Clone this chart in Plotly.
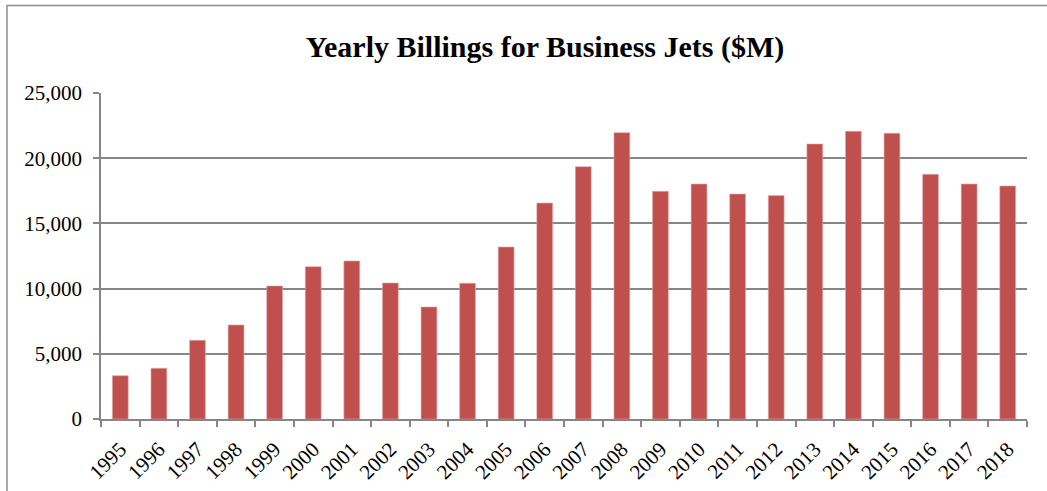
import plotly.graph_objects as go

# Yearly billings for business jets, in millions of dollars
years = [str(y) for y in range(1995, 2019)]
billings = [3320, 3890, 6030, 7210, 10200, 11680, 12120, 10430, 8590, 10410,
            13190, 16560, 19350, 21960, 17460, 18020, 17250, 17130,
            21090, 22060, 21910, 18760, 18020, 17870]
y_ticks = [0, 5000, 10000, 15000, 20000, 25000]
y_tick_text = ["0", "5,000", "10,000", "15,000", "20,000", "25,000"]

W, H = 1047, 491
ML, MR, MT, MB = 101, 20, 93, 72
PW, PH = W - ML - MR, H - MT - MB
GRID = "#868686"
SERIF = "Liberation Serif, Times New Roman, serif"

fig = go.Figure(
    go.Bar(
        x=years,
        y=billings,
        marker=dict(color="#C0504D", line=dict(color="#E0A9A8", width=0.6)),
        width=0.41,
    )
)

fig.update_layout(
    width=W,
    height=H,
    margin=dict(l=ML, r=MR, t=MT, b=MB),
    paper_bgcolor="white",
    plot_bgcolor="white",
    showlegend=False,
    font=dict(family=SERIF, size=21, color="black"),
    title=dict(
        text="<b>Yearly Billings for Business Jets ($M)</b>",
        x=(545 - ML) / PW,
        xanchor="center",
        xref="paper",
        y=1 - 46 / H,
        yanchor="middle",
        font=dict(family=SERIF, size=30, color="black"),
    ),
    bargap=0.59,
)

fig.update_xaxes(
    type="category",
    tickangle=-45,
    automargin=False,
    showgrid=False,
    showline=True,
    linecolor=GRID,
    linewidth=1.5,
    ticks="outside",
    tickson="boundaries",
    ticklen=6,
    tickcolor=GRID,
    tickwidth=1.5,
    ticklabelstandoff=8,
    tickfont=dict(family=SERIF, size=21, color="black"),
)

fig.update_yaxes(
    range=[0, 25000],
    tickvals=y_ticks,
    ticktext=y_tick_text,
    automargin=False,
    showgrid=True,
    gridcolor=GRID,
    gridwidth=1.5,
    showline=True,
    linecolor=GRID,
    linewidth=1.5,
    ticks="outside",
    ticklen=6,
    tickcolor=GRID,
    tickwidth=1.5,
    zeroline=False,
    ticklabelstandoff=7,
    tickfont=dict(family=SERIF, size=21, color="black"),
)

# Chart frame (continues past the right and bottom edges)
fig.add_shape(
    type="rect",
    xref="paper", yref="paper",
    x0=(7 - ML) / PW, x1=(W + 40 - ML) / PW,
    y0=-(MB + 40) / PH, y1=1 + (MT - 5.5) / PH,
    line=dict(color="#8C8C8C", width=1.5),
    fillcolor="rgba(0,0,0,0)",
    layer="below",
)

fig.write_html("out.html")
